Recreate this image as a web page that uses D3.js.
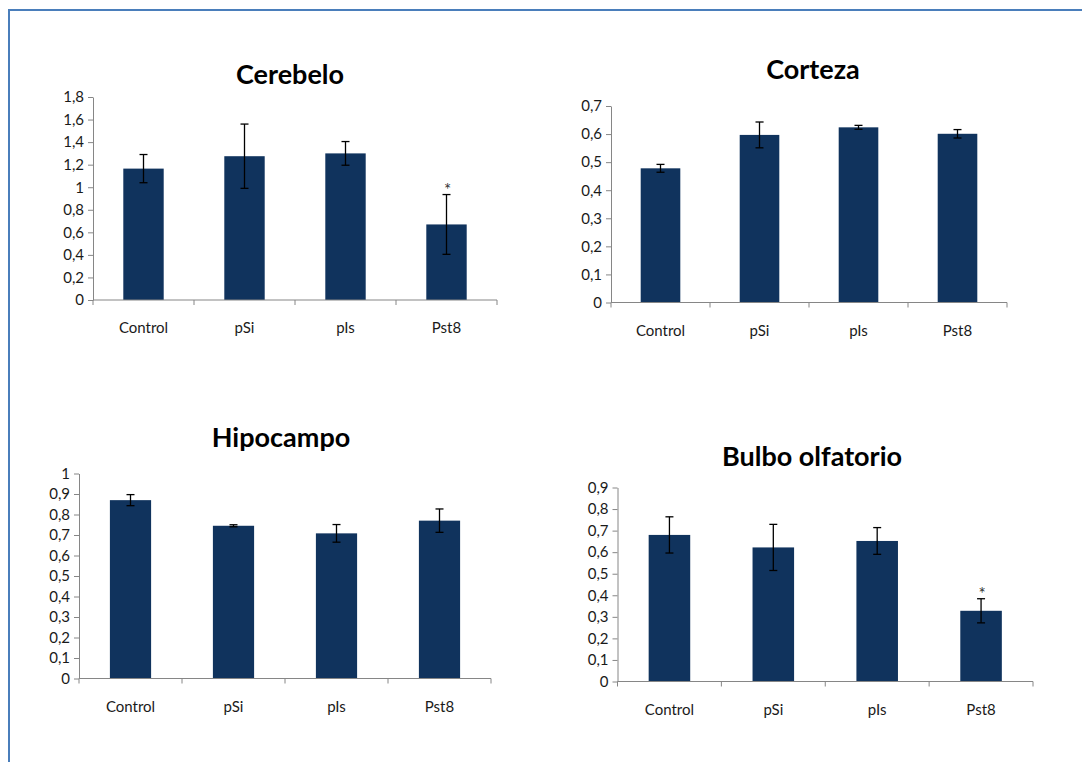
<!DOCTYPE html>
<html>
<head>
<meta charset="utf-8">
<script src="https://cdn.jsdelivr.net/npm/d3@7"></script>
<style>
  body { margin: 0; background: #fff; }
  svg { display: block; font-family: Lato, "Open Sans", sans-serif; }
</style>
</head>
<body>
<div id="fig"></div>
<script>
// data
var categories = ["Control", "pSi", "pIs", "Pst8"];

var cerebeloMeans = [1.165, 1.275, 1.30, 0.67];
var cerebeloErrs  = [0.125, 0.285, 0.105, 0.265];
var cerebeloStars = [false, false, false, true];

var cortezaMeans = [0.478, 0.597, 0.624, 0.601];
var cortezaErrs  = [0.014, 0.046, 0.007, 0.015];
var cortezaStars = [false, false, false, false];

var hipocampoMeans = [0.870, 0.745, 0.708, 0.770];
var hipocampoErrs  = [0.027, 0.005, 0.043, 0.057];
var hipocampoStars = [false, false, false, false];

var bulboMeans = [0.680, 0.622, 0.652, 0.328];
var bulboErrs  = [0.084, 0.107, 0.062, 0.056];
var bulboStars = [false, false, false, true];

var cerebeloTicks  = [0, 0.2, 0.4, 0.6, 0.8, 1, 1.2, 1.4, 1.6, 1.8];
var cortezaTicks   = [0, 0.1, 0.2, 0.3, 0.4, 0.5, 0.6, 0.7];
var hipocampoTicks = [0, 0.1, 0.2, 0.3, 0.4, 0.5, 0.6, 0.7, 0.8, 0.9, 1];
var bulboTicks     = [0, 0.1, 0.2, 0.3, 0.4, 0.5, 0.6, 0.7, 0.8, 0.9];

// where each panel sits on the page
var panels = [
    { title: "Cerebelo", means: cerebeloMeans, errs: cerebeloErrs, stars: cerebeloStars, ticks: cerebeloTicks,
      left: 93, right: 497, top: 97, bottom: 300, titleX: 290, titleY: 84 },
    { title: "Corteza", means: cortezaMeans, errs: cortezaErrs, stars: cortezaStars, ticks: cortezaTicks,
      left: 611, right: 1007, top: 106, bottom: 302.5, titleX: 813, titleY: 79 },
    { title: "Hipocampo", means: hipocampoMeans, errs: hipocampoErrs, stars: hipocampoStars, ticks: hipocampoTicks,
      left: 79, right: 491, top: 473.5, bottom: 678.5, titleX: 281, titleY: 447 },
    { title: "Bulbo olfatorio", means: bulboMeans, errs: bulboErrs, stars: bulboStars, ticks: bulboTicks,
      left: 617.5, right: 1033, top: 487.5, bottom: 681.5, titleX: 812, titleY: 466 }
];

var locale = d3.formatLocale({ decimal: ",", thousands: ".", grouping: [3], currency: ["", ""] });
var fmt = locale.format(".1~f");

var barColour = "#10335d";
var axisColour = "#868686";

var svg = d3.select("#fig")
    .append("svg")
    .attr("width", 1082)
    .attr("height", 762);

// blue frame of the slide
svg.append("path")
    .attr("d", "M9,762 L9,10 L1082,10")
    .attr("fill", "none")
    .attr("stroke", "#4a7ebb")
    .attr("stroke-width", 2);

panels.forEach(function(p) {
    var x = d3.scaleBand()
        .domain(categories)
        .range([p.left, p.right])
        .padding(0);

    var y = d3.scaleLinear()
        .domain([0, d3.max(p.ticks)])
        .range([p.bottom, p.top]);

    var g = svg.append("g");

    // title
    g.append("text")
        .attr("x", p.titleX)
        .attr("y", p.titleY)
        .attr("text-anchor", "middle")
        .style("font-size", "27px")
        .style("font-weight", "bold")
        .style("fill", "#000")
        .text(p.title);

    // y axis
    var yAxis = g.append("g")
        .attr("transform", "translate(" + p.left + ",0)")
        .call(d3.axisLeft(y).tickValues(p.ticks).tickFormat(fmt).tickSize(5).tickSizeOuter(0));
    yAxis.select(".domain").attr("stroke", axisColour);
    yAxis.selectAll(".tick line").attr("stroke", axisColour);
    yAxis.selectAll("text")
        .attr("x", -9)
        .style("font-size", "15px")
        .style("fill", "#1a1a1a")
        .style("font-family", "Lato, 'Open Sans', sans-serif");

    // bars
    var barW = x.bandwidth() * 0.4;
    g.selectAll("rect.bar")
        .data(categories)
        .enter().append("rect")
        .attr("class", "bar")
        .attr("x", (d) => x(d) + (x.bandwidth() - barW) / 2)
        .attr("y", (d, i) => y(p.means[i]))
        .attr("width", barW)
        .attr("height", (d, i) => y(0) - y(p.means[i]))
        .attr("fill", barColour);

    // x axis: ticks at category boundaries, below the line
    var bounds = categories.map((d) => x(d)).concat([p.right]);
    g.append("line")
        .attr("x1", p.left).attr("x2", p.right)
        .attr("y1", p.bottom).attr("y2", p.bottom)
        .attr("stroke", axisColour);
    g.selectAll("line.xtick")
        .data(bounds)
        .enter().append("line")
        .attr("class", "xtick")
        .attr("x1", (d) => d).attr("x2", (d) => d)
        .attr("y1", p.bottom).attr("y2", p.bottom + 5)
        .attr("stroke", axisColour);
    g.selectAll("text.xlab")
        .data(categories)
        .enter().append("text")
        .attr("class", "xlab")
        .attr("x", (d) => x(d) + x.bandwidth() / 2)
        .attr("y", p.bottom + 33)
        .attr("text-anchor", "middle")
        .style("font-size", "15px")
        .style("fill", "#1a1a1a")
        .text((d) => d);

    // error bars
    var cap = 4;
    var eb = g.selectAll("g.err")
        .data(categories)
        .enter().append("g")
        .attr("class", "err");
    eb.append("line")
        .attr("x1", (d) => x(d) + x.bandwidth() / 2)
        .attr("x2", (d) => x(d) + x.bandwidth() / 2)
        .attr("y1", (d, i) => y(p.means[i] + p.errs[i]))
        .attr("y2", (d, i) => y(p.means[i] - p.errs[i]))
        .attr("stroke", "#000").attr("stroke-width", 1.3);
    eb.append("line")
        .attr("x1", (d) => x(d) + x.bandwidth() / 2 - cap)
        .attr("x2", (d) => x(d) + x.bandwidth() / 2 + cap)
        .attr("y1", (d, i) => y(p.means[i] + p.errs[i]))
        .attr("y2", (d, i) => y(p.means[i] + p.errs[i]))
        .attr("stroke", "#000").attr("stroke-width", 1.3);
    eb.append("line")
        .attr("x1", (d) => x(d) + x.bandwidth() / 2 - cap)
        .attr("x2", (d) => x(d) + x.bandwidth() / 2 + cap)
        .attr("y1", (d, i) => y(p.means[i] - p.errs[i]))
        .attr("y2", (d, i) => y(p.means[i] - p.errs[i]))
        .attr("stroke", "#000").attr("stroke-width", 1.3);

    // significance stars
    g.selectAll("text.star")
        .data(categories.filter((d, i) => p.stars[i]))
        .enter().append("text")
        .attr("class", "star")
        .attr("x", (d) => x(d) + x.bandwidth() / 2 + 1)
        .attr("y", (d) => {
            var i = categories.indexOf(d);
            return y(p.means[i] + p.errs[i]) + 1;
        })
        .attr("text-anchor", "middle")
        .style("font-size", "17px")
        .style("fill", "#333")
        .text("*");
});
</script>
</body>
</html>
